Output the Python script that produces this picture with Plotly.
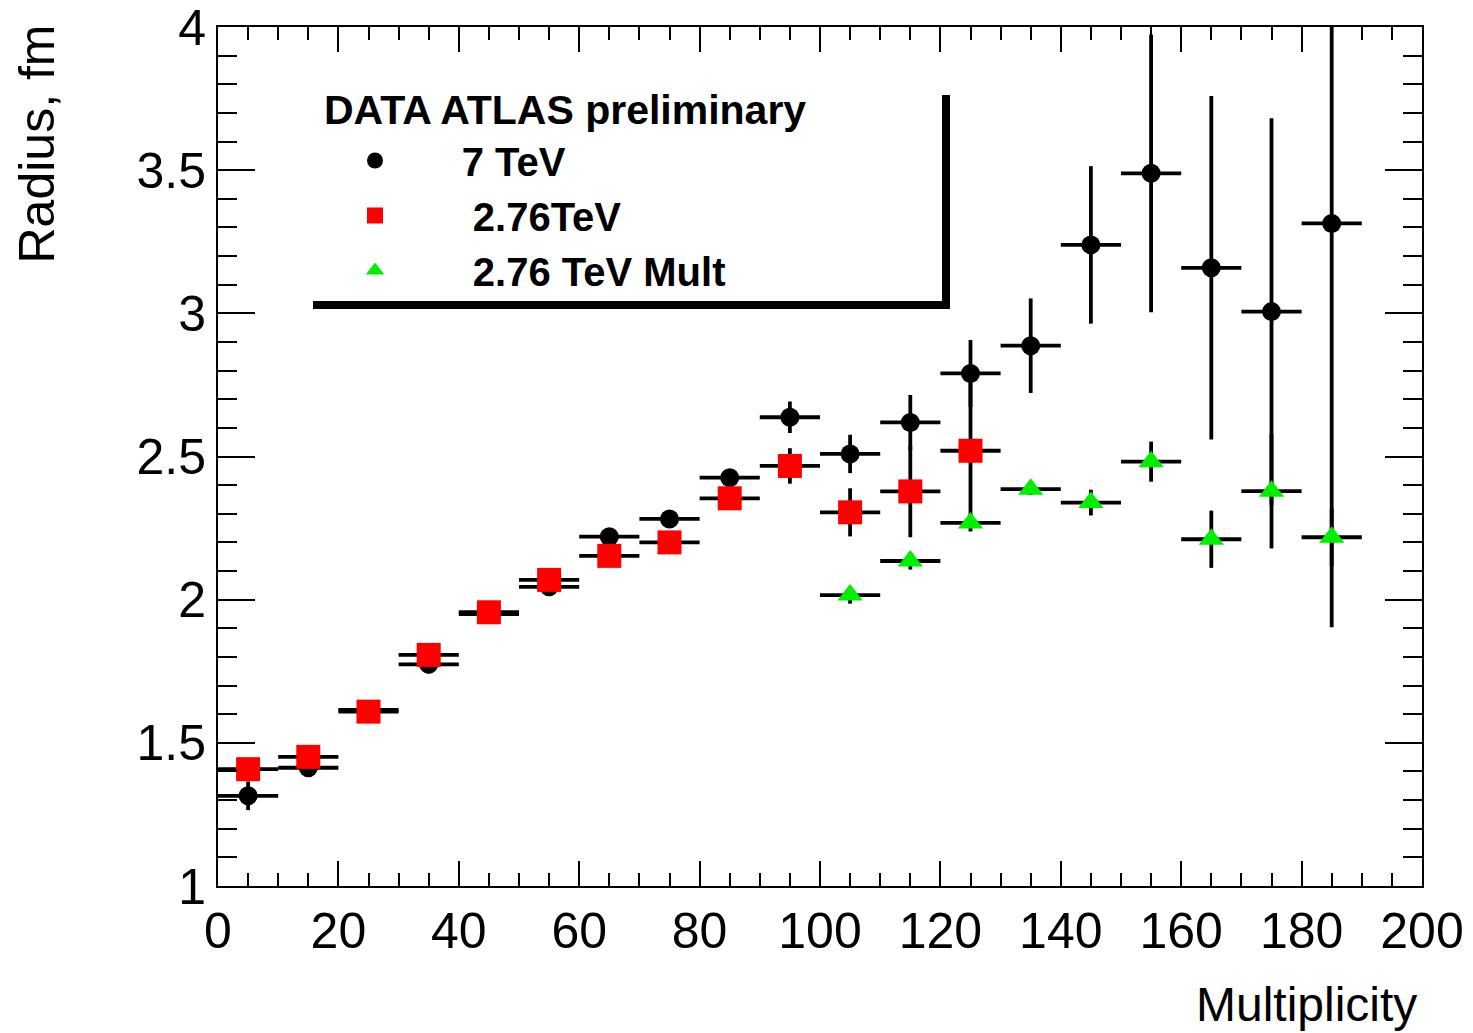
import plotly.graph_objects as go

# Multiplicity bin centres and half-widths
mult_7tev = [5, 15, 25, 35, 45, 55, 65, 75, 85, 95, 105, 115, 125, 135, 145, 155, 165, 175, 185]
mult_276 = [5, 15, 25, 35, 45, 55, 65, 75, 85, 95, 105, 115, 125]
mult_276_mult = [105, 115, 125, 135, 145, 155, 165, 175, 185]
bin_half_width = 5

# Radius (fm) and uncertainties
radius_7tev = [1.315, 1.413, 1.615, 1.774, 1.950, 2.045, 2.220, 2.282, 2.426, 2.637,
               2.509, 2.619, 2.790, 2.887, 3.239, 3.489, 3.159, 3.006, 3.314]
err_7tev = [0.05, 0.015, 0.015, 0.015, 0.015, 0.015, 0.02, 0.02, 0.02, 0.055,
            0.067, 0.096, 0.117, 0.165, 0.275, 0.485, 0.60, 0.675, 1.41]

radius_276 = [1.408, 1.451, 1.609, 1.807, 1.956, 2.069, 2.153, 2.200, 2.354, 2.467,
              2.305, 2.378, 2.520]
err_276 = [0.01, 0.01, 0.01, 0.01, 0.01, 0.01, 0.01, 0.015, 0.02, 0.062,
           0.084, 0.16, 0.25]

radius_276_mult = [2.016, 2.135, 2.268, 2.386, 2.339, 2.482, 2.211, 2.379, 2.218]
err_276_mult = [0.03, 0.03, 0.03, 0.02, 0.045, 0.07, 0.10, 0.20, 0.10]

y_tick_values = [1, 1.5, 2, 2.5, 3, 3.5, 4]
y_tick_labels = ["1", "1.5", "2", "2.5", "3", "3.5", "4"]

FONT = "Liberation Sans, Arial, Helvetica, sans-serif"
NB = "\u00a0"

# plot area in pixels (figure 1473 x 1033)
L, R, T, B = 218, 1422, 27, 886


def px(xp):
    return (xp - L) / (R - L)


def py(yp):
    return (B - yp) / (B - T)


def series(x, y, e, name, symbol, color, size):
    return go.Scatter(
        x=x, y=y, mode="markers", name=name,
        marker=dict(symbol=symbol, color=color, size=size, line=dict(width=0)),
        error_y=dict(type="data", array=e, visible=True, color="black",
                     thickness=3.8, width=0),
        error_x=dict(type="data", array=[bin_half_width] * len(x), visible=True,
                     color="black", thickness=3.8, width=0),
    )


fig = go.Figure()
fig.add_trace(series(mult_7tev, radius_7tev, err_7tev,
                     "<b>" + NB * 6 + "7 TeV</b>", "circle", "black", 19))
fig.add_trace(series(mult_276, radius_276, err_276,
                     "<b>" + NB * 7 + "2.76TeV</b>", "square", "#ff0000", 24))
fig.add_trace(series(mult_276_mult, radius_276_mult, err_276_mult,
                     "<b>" + NB * 7 + "2.76 TeV Mult</b>", "triangle-up", "#00ee00", 22))

axis_common = dict(
    showline=True, linecolor="black", linewidth=2, mirror="ticks",
    ticks="inside", tickcolor="black", tickwidth=2,
    showgrid=False, zeroline=False, ticklabeloverflow="allow",
    automargin=False,
    tickfont=dict(family=FONT, size=50, color="black"),
)

fig.update_xaxes(range=[0, 200], tick0=0, dtick=20, ticklen=25,
                 minor=dict(dtick=5, ticklen=13, ticks="inside",
                            tickcolor="black", tickwidth=2),
                 **axis_common)
fig.update_yaxes(range=[1, 4], tickmode="array", tickvals=y_tick_values,
                 ticktext=y_tick_labels, ticklen=37,
                 minor=dict(dtick=0.1, tick0=1, ticklen=19, ticks="inside",
                            tickcolor="black", tickwidth=2),
                 **axis_common)

# legend box shadow (bottom and right edges)
fig.add_shape(type="rect", xref="paper", yref="paper",
              x0=px(313), x1=px(950), y0=py(309), y1=py(301),
              fillcolor="black", line=dict(width=0))
fig.add_shape(type="rect", xref="paper", yref="paper",
              x0=px(942), x1=px(950), y0=py(309), y1=py(95),
              fillcolor="black", line=dict(width=0))

fig.add_annotation(text="<b>DATA ATLAS preliminary</b>", xref="paper", yref="paper",
                   x=px(322), y=py(110), xanchor="left", yanchor="middle",
                   showarrow=False, font=dict(family=FONT, size=41, color="black"))

fig.add_annotation(text="Radius, fm", xref="paper", yref="paper",
                   x=px(37), y=py(22), xanchor="center", yanchor="top",
                   textangle=-90, showarrow=False,
                   font=dict(family=FONT, size=50, color="black"))
fig.add_annotation(text="Multiplicity", xref="paper", yref="paper",
                   x=px(1419), y=py(1004), xanchor="right", yanchor="middle",
                   showarrow=False, font=dict(family=FONT, size=48, color="black"))

fig.update_layout(
    width=1473, height=1033,
    margin=dict(l=L, r=1473 - R, t=T, b=1033 - B, autoexpand=False),
    paper_bgcolor="white", plot_bgcolor="white",
    showlegend=True,
    legend=dict(x=px(355), y=py(128), xanchor="left", yanchor="top",
                bgcolor="rgba(0,0,0,0)", borderwidth=0,
                font=dict(family=FONT, size=40, color="black"),
                itemsizing="trace", traceorder="normal"),
)

fig.write_html("out.html")
